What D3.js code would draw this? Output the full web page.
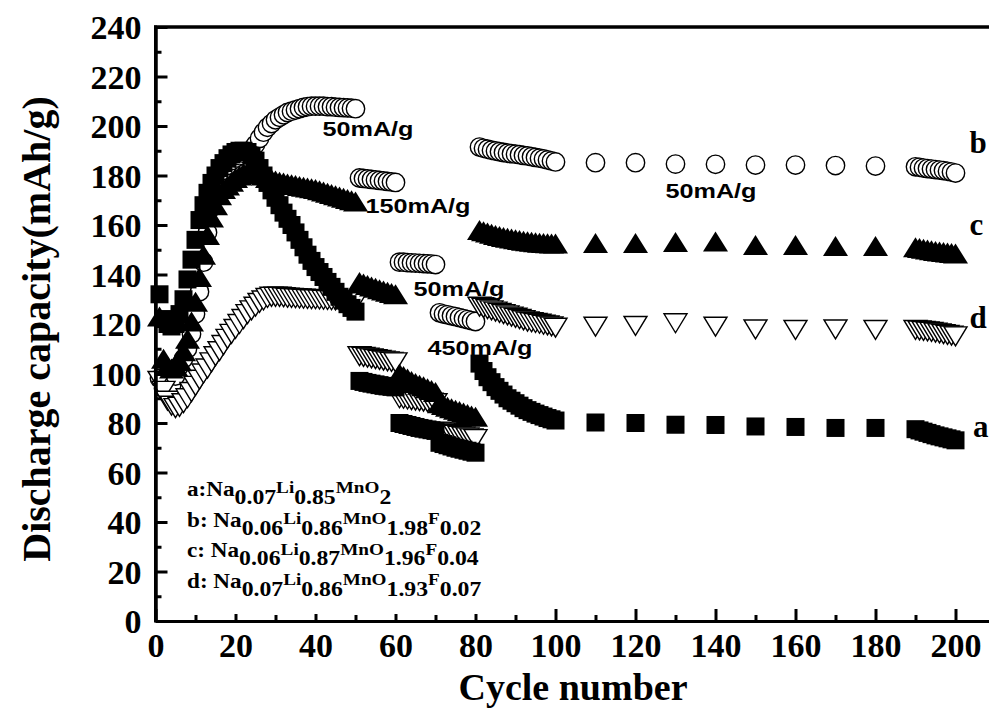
<!DOCTYPE html>
<html>
<head>
<meta charset="utf-8">
<script src="https://cdn.jsdelivr.net/npm/d3@7"></script>
<style>
  body { margin: 0; background: #fff; }
  svg { display: block; }
</style>
</head>
<body>
<svg id="chart" width="989" height="715"></svg>
<script>
// Cycle numbers: every cycle up to 100, every tenth cycle to 180, then every cycle to 200
const cycles = [...d3.range(1, 101), 110, 120, 130, 140, 150, 160, 170, 180, ...d3.range(190, 201)];

// a: Na0.07Li0.85MnO2 (filled squares)
const capA = [
  132, 122, 120, 119, 120, 124, 130, 138, 146, 154,
  162, 168, 173, 177, 180, 183, 185, 187, 188.5, 189.5,
  190, 190, 189.5, 188, 186, 183, 180, 177, 174, 171,
  168, 165, 162.5, 160, 157, 154, 151, 148, 145.5, 143,
  141, 139, 137, 135, 133, 131, 129.5, 128, 126.5, 125,
  97, 96.6, 96.2, 95.9, 95.6, 95.3, 95, 94.8, 94.6, 94.4,
  80, 79.6, 79.2, 78.8, 78.4, 78, 77.7, 77.4, 77.1, 76.8,
  72, 71.5, 71, 70.5, 70, 69.6, 69.2, 68.8, 68.4, 68,
  104, 101, 98.5, 96.5, 94.5, 93, 91.5, 90, 89, 88,
  87, 86, 85.2, 84.5, 83.8, 83.2, 82.6, 82, 81.5, 81,
  80.2, 80, 79.3, 79.2, 78.6, 78.4, 78, 78,
  77.5, 77, 76.5, 76, 75.5, 75, 74.6, 74.2, 73.8, 73.4, 73
];

// b: Na0.06Li0.86MnO1.98F0.02 (open circles)
const capB = [
  98, 94, 93, 95, 99, 103, 106, 110, 116, 124,
  133, 145, 157, 167, 174, 179, 182, 184, 186, 187,
  188, 189, 189.5, 190.5, 192.5, 195, 197.5, 199.5, 201, 202.5,
  203.5, 204.5, 205.5, 206, 206.5, 207, 207.5, 207.8, 208, 208,
  208, 208, 207.8, 207.8, 207.6, 207.5, 207.4, 207.3, 207.2, 207,
  179, 178.8, 178.6, 178.4, 178.2, 178, 177.8, 177.6, 177.4, 177.2,
  145, 145, 144.8, 144.7, 144.6, 144.5, 144.4, 144.3, 144.2, 144,
  124.5, 124, 123.7, 123.3, 123, 122.6, 122.2, 121.8, 121.4, 121,
  191.5, 191, 190.6, 190.2, 189.9, 189.6, 189.3, 189, 188.8, 188.6,
  188.4, 188.1, 187.9, 187.6, 187.3, 187, 186.7, 186.3, 185.9, 185.5,
  185.2, 185.2, 184.6, 184.5, 184.2, 184.2, 184, 183.8,
  183.5, 183.3, 183, 182.8, 182.6, 182.4, 182.2, 182, 181.7, 181.4, 181
];

// c: Na0.06Li0.87MnO1.96F0.04 (filled up-triangles)
const capC = [
  123, 106, 103, 102, 103, 105, 109, 114, 121, 129,
  139, 148, 156, 163, 168, 172, 174.5, 176, 177.5, 179,
  180, 181, 181.5, 181.5, 181, 180.5, 180, 179, 178.5, 178,
  177.5, 177.2, 176.8, 176.5, 176.2, 175.8, 175.5, 175.2, 174.8, 174.5,
  174, 173.5, 173, 172.5, 172, 171.5, 171, 170.5, 170, 169.5,
  137, 136.4, 135.8, 135.2, 134.6, 134, 133.5, 133, 132.5, 132,
  100, 99, 98, 97, 96.2, 95.5, 94.8, 94, 93.3, 92.5,
  88, 87.3, 86.6, 86, 85.4, 84.8, 84.2, 83.6, 83, 82.5,
  158, 157.5, 157, 156.5, 156, 155.6, 155.2, 154.8, 154.5, 154.2,
  153.9, 153.6, 153.4, 153.2, 153, 152.8, 152.7, 152.6, 152.5, 152.5,
  152.7, 152.7, 153.1, 153.3, 151.9, 151.9, 151.5, 151.5,
  151, 150.7, 150.4, 150.1, 149.8, 149.5, 149.3, 149.1, 148.9, 148.7, 148.5
];

// d: Na0.07Li0.86MnO1.93F0.07 (open down-triangles)
const capD = [
  97, 93, 89, 87, 86, 86.5, 88, 90, 92.5, 95,
  97.5, 100, 102, 104.5, 107, 109, 111.5, 114, 116, 118,
  120, 122, 124, 125.5, 127, 128.5, 129.5, 130.5, 131, 131,
  131, 130.8, 130.6, 130.5, 130.4, 130.3, 130.2, 130.1, 130, 130,
  129.9, 129.8, 129.7, 129.6, 129.5, 129.4, 129.3, 129.2, 129.1, 129,
  107, 106.7, 106.4, 106.1, 105.8, 105.5, 105.2, 104.9, 104.7, 104.5,
  90, 89.8, 89.5, 89.2, 89, 88.8, 88.6, 88.4, 88.2, 88,
  76.5, 76.2, 75.8, 75.5, 75.2, 74.8, 74.5, 74.2, 73.8, 73.5,
  127, 126.5, 126, 125.5, 125, 124.5, 124, 123.5, 123, 122.5,
  122, 121.5, 121, 120.7, 120.4, 120.1, 119.7, 119.4, 119, 118.5,
  118.9, 119.2, 120.3, 118.9, 117.8, 117.6, 117.8, 117.6,
  117.6, 117.4, 117.2, 117, 116.8, 116.5, 116.2, 115.9, 115.6, 115.3, 115
];

const xTicksMajor = d3.range(0, 201, 20);
const xTicksMinor = d3.range(10, 201, 20);
const yTicksMajor = d3.range(0, 241, 20);
const yTicksMinor = d3.range(10, 240, 20);

// Current-density labels and curve letters
const rateLabels = ["50mA/g", "150mA/g", "50mA/g", "450mA/g", "50mA/g"];
const curveLetters = ["b", "c", "d", "a"];

// Legend entries: [text, role] with role m = main, s = subscript, u = raised small
const legendRows = [
  [["a:Na", "m"], ["0.07", "s"], ["Li", "u"], ["0.85", "s"], ["MnO", "u"], ["2", "s"]],
  [["b: Na", "m"], ["0.06", "s"], ["Li", "u"], ["0.86", "s"], ["MnO", "u"], ["1.98", "s"], ["F", "u"], ["0.02", "s"]],
  [["c: Na", "m"], ["0.06", "s"], ["Li", "u"], ["0.87", "s"], ["MnO", "u"], ["1.96", "s"], ["F", "u"], ["0.04", "s"]],
  [["d: Na", "m"], ["0.07", "s"], ["Li", "u"], ["0.86", "s"], ["MnO", "u"], ["1.93", "s"], ["F", "u"], ["0.07", "s"]]
];

// ---------------- layout ----------------
const W = 989, H = 715;
const SX = 1.2;                // horizontal stretch of the sans rate labels
const SX_LEG = 1.13;           // horizontal stretch of the legend formulas
const SERIF = "'Liberation Serif', 'Times New Roman', serif";
const SANS = "'Liberation Sans', Arial, sans-serif";

const x = d3.scaleLinear().domain([0, 210]).range([155.5, 995.5]);
const y = d3.scaleLinear().domain([0, 240]).range([621, 27]);

const svg = d3.select("#chart");
svg.append("rect").attr("width", W).attr("height", H).attr("fill", "#fff");

// ---------------- data marks ----------------
const plot = svg.append("g");
const rows = cycles.map((c, i) => ({ c, a: capA[i], b: capB[i], cc: capC[i], d: capD[i] }));

function triPath(cx, cy, w, h, up) {
  const t = up ? cy - h / 2 : cy + h / 2;
  const b = up ? cy + h / 2 : cy - h / 2;
  return `M${cx},${t}L${cx + w / 2},${b}L${cx - w / 2},${b}Z`;
}

// b: open circles
plot.append("g").selectAll("circle").data(rows).join("circle")
  .attr("cx", r => x(r.c)).attr("cy", r => y(r.b)).attr("r", 9.2)
  .attr("fill", "#fff").attr("stroke", "#000").attr("stroke-width", 1.4);

// d: open down-triangles
plot.append("g").selectAll("path").data(rows).join("path")
  .attr("d", r => triPath(x(r.c), y(r.d), 23, 19, false))
  .attr("fill", "#fff").attr("stroke", "#000").attr("stroke-width", 1.4)
  .attr("stroke-linejoin", "miter");

// c: filled up-triangles
plot.append("g").selectAll("path").data(rows).join("path")
  .attr("d", r => triPath(x(r.c), y(r.cc), 25, 20, true))
  .attr("fill", "#000");

// a: filled squares
plot.append("g").selectAll("rect").data(rows).join("rect")
  .attr("x", r => x(r.c) - 9).attr("y", r => y(r.a) - 9)
  .attr("width", 18).attr("height", 18).attr("fill", "#000");

// ---------------- axes ----------------
const axisStroke = g => {
  g.selectAll(".domain").attr("stroke", "#000").attr("stroke-width", 3);
  g.selectAll(".tick line").attr("stroke", "#000").attr("stroke-width", 3);
};

svg.append("g").attr("transform", `translate(${x(0)},0)`)
  .call(d3.axisLeft(y).tickValues(yTicksMinor).tickSize(-6).tickSizeOuter(0).tickFormat(""))
  .call(axisStroke);
const gy = svg.append("g").attr("transform", `translate(${x(0)},0)`)
  .call(d3.axisLeft(y).tickValues(yTicksMajor).tickSize(-12).tickSizeOuter(0).tickPadding(14))
  .call(axisStroke);

svg.append("g").attr("transform", `translate(0,${y(0)})`)
  .call(d3.axisBottom(x).tickValues(xTicksMinor).tickSize(-6).tickSizeOuter(0).tickFormat(""))
  .call(axisStroke);
const gx = svg.append("g").attr("transform", `translate(0,${y(0)})`)
  .call(d3.axisBottom(x).tickValues(xTicksMajor).tickSize(-12).tickSizeOuter(0))
  .call(axisStroke);

// frame: left spine (reinforced) and top line
svg.append("line")
  .attr("x1", x(0)).attr("x2", x(0)).attr("y1", y(240) - 1.5).attr("y2", y(0) + 1.5)
  .attr("stroke", "#000").attr("stroke-width", 3);
svg.append("line")
  .attr("x1", x(0) - 1.5).attr("x2", W).attr("y1", y(240)).attr("y2", y(240))
  .attr("stroke", "#000").attr("stroke-width", 3.5);

// tick labels
gy.selectAll(".tick text")
  .attr("font-family", SERIF).attr("font-weight", "bold").attr("font-size", 34)
  .attr("fill", "#000").attr("x", -14).attr("dy", "0.34em");
gx.selectAll(".tick text")
  .attr("font-family", SERIF).attr("font-weight", "bold").attr("font-size", 34)
  .attr("fill", "#000").attr("y", 36).attr("dy", null);

// axis titles
svg.append("text")
  .attr("transform", `translate(50,329) rotate(-90)`)
  .attr("text-anchor", "middle")
  .attr("font-family", SERIF).attr("font-weight", "bold").attr("font-size", 40)
  .text("Discharge capacity(mAh/g)");

svg.append("text")
  .attr("transform", `translate(573,700)`)
  .attr("text-anchor", "middle")
  .attr("font-family", SERIF).attr("font-weight", "bold").attr("font-size", 38)
  .text("Cycle number");

// ---------------- annotations ----------------
const rateAnchors = [[41.75, 196], [52.5, 165], [64.5, 131.5], [68, 107.5], [127.5, 171]];
rateLabels.forEach((t, i) => {
  const [c, v] = rateAnchors[i];
  svg.append("text")
    .attr("transform", `translate(${x(c)},${y(v)}) scale(${SX},1)`)
    .attr("font-family", SANS).attr("font-weight", "bold").attr("font-size", 21)
    .text(t);
});

const letterAnchors = [[203.5, 189], [203.5, 156], [203.5, 118.5], [204.4, 74.3]];
curveLetters.forEach((t, i) => {
  const [c, v] = letterAnchors[i];
  svg.append("text")
    .attr("transform", `translate(${x(c)},${y(v)})`)
    .attr("font-family", SERIF).attr("font-weight", "bold").attr("font-size", 31)
    .text(t);
});

// ---------------- legend ----------------
const legend = svg.append("g");
legend.append("rect")
  .attr("x", 180).attr("y", 470).attr("width", 305).attr("height", 144)
  .attr("fill", "#fff");
const roleStyle = { m: { size: 20.5, dy: 0 }, s: { size: 21, dy: 8 }, u: { size: 17, dy: -2.7 } };
legendRows.forEach((row, i) => {
  const base = 496 + i * 30.6;
  const t = legend.append("text")
    .attr("transform", `translate(187,${base}) scale(${SX_LEG},1)`)
    .attr("font-family", SERIF).attr("font-weight", "bold");
  row.forEach(([str, role]) => {
    t.append("tspan").attr("y", roleStyle[role].dy)
      .attr("font-size", roleStyle[role].size).text(str);
  });
});
</script>
</body>
</html>
